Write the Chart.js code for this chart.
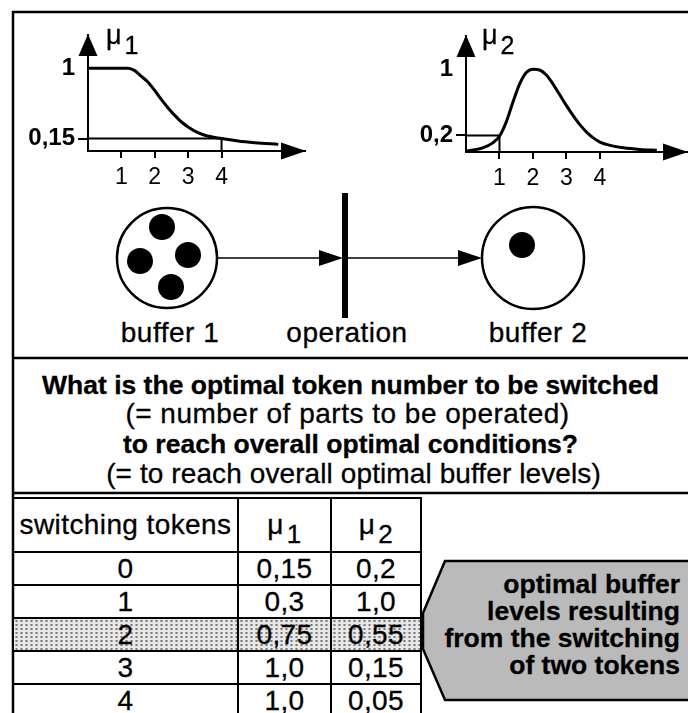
<!DOCTYPE html>
<html>
<head>
<meta charset="utf-8">
<script src="https://cdn.jsdelivr.net/npm/chart.js@4.4.1/dist/chart.umd.min.js"></script>
<style>
  html, body { margin: 0; padding: 0; background: #fff; }
  body { width: 688px; height: 713px; position: relative; overflow: hidden;
         font-family: "Liberation Sans", Arial, Helvetica, sans-serif; color: #000;
         -webkit-text-stroke: 0.3px #000; }
  .abs { position: absolute; white-space: nowrap; line-height: 1; }
  .reg { font-size: 28px; letter-spacing: 0.5px; }
  .bold { font-size: 26.5px; font-weight: bold; }
  .center { text-align: center; }
  canvas { position: absolute; }
  #frame { position: absolute; left: 0; top: 0; }
  .mu { font-size: 27px; }
  .mu span { position: relative; top: 10px; margin-left: 3px; font-size: 25px; }
  #tbl { position: absolute; left: 12px; top: 497px; border-collapse: collapse; table-layout: fixed;
         font-size: 28px; letter-spacing: 0.4px; }
  #tbl td { border: 2.5px solid #000; text-align: center; padding: 0; height: 31px; line-height: 1; }
  #tbl tr.head td { height: 52px; }
  #tbl tr.hl td { background: radial-gradient(circle, #7a7a7a 0.9px, transparent 1.4px) 0 0 / 5px 4px, #e8e8e8; }
  .sub { position: relative; top: 9px; margin-left: 3px; font-size: 26px; }
  .call { right: 8px; text-align: right; font-size: 26.5px; font-weight: bold; }
</style>
</head>
<body>

<svg id="frame" width="688" height="713">
  <!-- outer frame and section dividers -->
  <line x1="12" y1="12" x2="688" y2="12" stroke="#000" stroke-width="2.5"/>
  <line x1="13" y1="11" x2="13" y2="713" stroke="#000" stroke-width="2.5"/>
  <line x1="13" y1="358" x2="688" y2="358" stroke="#000" stroke-width="2.5"/>
  <line x1="13" y1="493" x2="688" y2="493" stroke="#000" stroke-width="2.5"/>

  <!-- petri net: buffer 1 -> operation -> buffer 2 -->
  <circle cx="167" cy="258" r="50" fill="none" stroke="#000" stroke-width="2.5"/>
  <circle cx="162" cy="227" r="13"/>
  <circle cx="140" cy="261" r="13"/>
  <circle cx="188" cy="255" r="13"/>
  <circle cx="171" cy="287" r="13"/>
  <line x1="217" y1="258" x2="330" y2="258" stroke="#000" stroke-width="1.6"/>
  <polygon points="343,258 319,250 319,266"/>
  <rect x="342" y="193" width="6" height="125"/>
  <line x1="348" y1="258" x2="470" y2="258" stroke="#000" stroke-width="1.6"/>
  <polygon points="482,258 458,250 458,266"/>
  <circle cx="533" cy="258" r="51" fill="none" stroke="#000" stroke-width="2.5"/>
  <circle cx="522" cy="245" r="13"/>

  <!-- callout -->
  <polygon points="445,561 423,613 423,649 445,700 692,700 692,561" fill="#bababa" stroke="#000" stroke-width="2.5"/>
</svg>

<canvas id="chart1" width="320" height="200" style="left:0;top:0"></canvas>
<canvas id="chart2" width="308" height="200" style="left:380px;top:0"></canvas>

<div class="abs mu" style="left:106px;top:22px">μ<span>1</span></div>
<div class="abs mu" style="left:482px;top:22px">μ<span>2</span></div>

<div class="abs reg center" style="left:70px;width:200px;top:319px">buffer 1</div>
<div class="abs reg center" style="left:247px;width:200px;top:319px">operation</div>
<div class="abs reg center" style="left:438px;width:200px;top:319px">buffer 2</div>

<div class="abs bold center" style="left:13px;width:675px;top:372px">What is the optimal token number to be switched</div>
<div class="abs reg center" style="left:10px;width:675px;top:400px">(= number of parts to be operated)</div>
<div class="abs bold center" style="left:13px;width:675px;top:431px">to reach overall optimal conditions?</div>
<div class="abs reg center" style="left:16px;width:675px;top:460px;letter-spacing:0.1px">(= to reach overall optimal buffer levels)</div>

<table id="tbl">
  <colgroup><col style="width:225px"><col style="width:93px"><col style="width:90px"></colgroup>
  <tbody id="tbody"></tbody>
</table>

<div class="abs call" style="top:571px">optimal buffer</div>
<div class="abs call" style="top:598px">levels resulting</div>
<div class="abs call" style="top:625px">from the switching</div>
<div class="abs call" style="top:652px">of two tokens</div>

<script>
// Membership function of buffer 1 (tokens in buffer -> mu1)
const mu1X = [0, 1.2, 1.4, 1.6, 1.8, 2, 2.2, 2.4, 2.6, 2.8, 3, 3.2, 3.5, 4, 4.5, 5, 5.7];
const mu1Y = [1, 1, 0.97, 0.9, 0.83, 0.73, 0.62, 0.52, 0.43, 0.35, 0.29, 0.24, 0.19, 0.15, 0.12, 0.1, 0.08];
// Membership function of buffer 2
const mu2X = [0, 0.5, 0.8, 1, 1.2, 1.4, 1.6, 1.8, 2, 2.2, 2.4, 2.6, 2.8, 3, 3.2, 3.4, 3.6, 3.8, 4, 4.3, 4.7, 5.2, 5.7];
const mu2Y = [0.01, 0.05, 0.11, 0.19, 0.36, 0.6, 0.82, 0.96, 1, 0.99, 0.93, 0.82, 0.69, 0.56, 0.44, 0.33, 0.24, 0.17, 0.12, 0.08, 0.05, 0.03, 0.02];

// current levels marked on each plot
const mu1RefX = [0, 4, 4];
const mu1RefY = [0.15, 0.15, 0];
const mu2RefX = [0, 1, 1];
const mu2RefY = [0.2, 0.2, 0];

// axis ticks
const xTicks = [1, 2, 3, 4];
const mu1YTicks = [0.15, 1];
const mu2YTicks = [0.2, 1];

// table
const tokens = ['0', '1', '2', '3', '4'];
const mu1Values = ['0,15', '0,3', '0,75', '1,0', '1,0'];
const mu2Values = ['0,2', '1,0', '0,55', '0,15', '0,05'];
const bestRow = 2;

const toPoints = (xs, ys) => xs.map((x, i) => ({ x, y: ys[i] }));
const comma = v => String(v).replace('.', ',');

// arrow heads at the ends of both axes
const axisArrows = {
    id: 'axisArrows',
    afterDraw(chart) {
        const { ctx, chartArea: a } = chart;
        ctx.save();
        ctx.fillStyle = '#000';
        ctx.beginPath();
        ctx.moveTo(a.right + 1, a.bottom);
        ctx.lineTo(a.right - 24, a.bottom - 8.5);
        ctx.lineTo(a.right - 24, a.bottom + 8.5);
        ctx.closePath();
        ctx.fill();
        ctx.beginPath();
        ctx.moveTo(a.left, a.top - 1);
        ctx.lineTo(a.left - 9.5, a.top + 21);
        ctx.lineTo(a.left + 9.5, a.top + 21);
        ctx.closePath();
        ctx.fill();
        ctx.restore();
    }
};

function membershipChart(id, xs, ys, refX, refY, yTicks, box) {
    return new Chart(document.getElementById(id), {
        type: 'line',
        data: {
            datasets: [
                {
                    data: toPoints(refX, refY),
                    borderColor: '#000',
                    borderWidth: 2,
                    pointRadius: 0,
                    tension: 0
                },
                {
                    data: toPoints(xs, ys),
                    borderColor: '#000',
                    borderWidth: 3,
                    pointRadius: 0,
                    cubicInterpolationMode: 'monotone'
                }
            ]
        },
        options: {
            responsive: false,
            animation: false,
            devicePixelRatio: 1,
            layout: { padding: { top: box.top, right: box.right, left: 0, bottom: 0 } },
            plugins: { legend: { display: false }, tooltip: { enabled: false } },
            scales: {
                x: {
                    type: 'linear',
                    min: 0,
                    max: box.xMax,
                    afterBuildTicks: s => { s.ticks = xTicks.map(v => ({ value: v })); },
                    afterFit: s => { s.height = box.axisH; },
                    ticks: { color: '#000', font: { family: 'Liberation Sans', size: 23 }, padding: 6, maxRotation: 0, autoSkip: false },
                    grid: { drawOnChartArea: false, tickLength: 7, color: '#000', lineWidth: 2 },
                    border: { color: '#000', width: 2 }
                },
                y: {
                    min: 0,
                    max: 1.4,
                    afterBuildTicks: s => { s.ticks = yTicks.map(v => ({ value: v })); },
                    afterFit: s => { s.width = box.axisW; },
                    ticks: { color: '#000', font: { family: 'Liberation Sans', size: 24, weight: 'bold' }, padding: 3, callback: comma },
                    grid: {
                        drawOnChartArea: false,
                        tickLength: 10,
                        lineWidth: 2,
                        color: ctx => (ctx.tick && ctx.tick.value === 1) ? 'rgba(0,0,0,0)' : '#000'
                    },
                    border: { color: '#000', width: 2 }
                }
            }
        },
        plugins: [axisArrows]
    });
}

membershipChart('chart1', mu1X, mu1Y, mu1RefX, mu1RefY, mu1YTicks,
    { top: 35, right: 15, axisW: 88, axisH: 49, xMax: 6.5 });
membershipChart('chart2', mu2X, mu2Y, mu2RefX, mu2RefY, mu2YTicks,
    { top: 36, right: 1, axisW: 86, axisH: 48, xMax: 6.6 });

// table of resulting buffer levels
const tbody = document.getElementById('tbody');
tbody.innerHTML = '<tr class="head"><td>switching tokens</td>' +
    '<td>μ<span class="sub">1</span></td><td>μ<span class="sub">2</span></td></tr>';
tokens.forEach((t, i) => {
    const tr = document.createElement('tr');
    if (i === bestRow) tr.className = 'hl';
    tr.innerHTML = `<td>${t}</td><td>${mu1Values[i]}</td><td>${mu2Values[i]}</td>`;
    tbody.appendChild(tr);
});
</script>
</body>
</html>
